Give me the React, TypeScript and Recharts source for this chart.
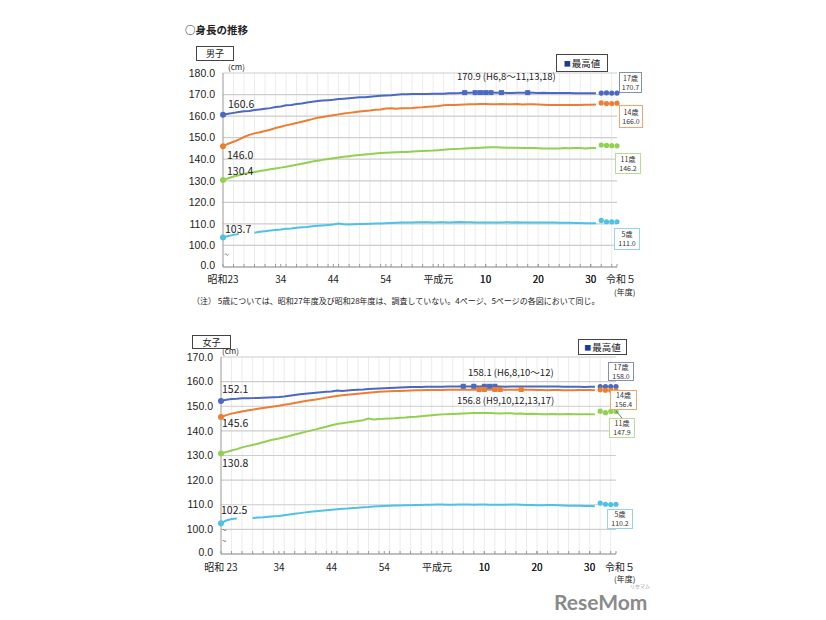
import React from "react";
import { CartesianGrid, Line, LineChart, XAxis, YAxis } from "recharts";

const FONT = '"Noto Sans CJK JP", "Noto Sans", sans-serif';
const NUM_FONT = '"Liberation Sans", Arial, sans-serif';

const firstYear = 1948;
const recentYears = [2020, 2021, 2022, 2023];
const labelYears = [1948, 1959, 1969, 1979, 1989, 1998, 2008, 2018, 2023];
const boysYearLabels = ["昭和23", "34", "44", "54", "平成元", "10", "20", "30", "令和５"];
const girlsYearLabels = ["昭和 23", "34", "44", "54", "平成元", "10", "20", "30", "令和５"];
const gridYears = [1950, 1952, 1954, 1956, 1958, 1960, 1962, 1964, 1966, 1968, 1970, 1972, 1974, 1976, 1978, 1980, 1982, 1984, 1986, 1988, 1990, 1992, 1994, 1996, 1998, 2000, 2002, 2004, 2006, 2008, 2010, 2012, 2014, 2016, 2018, 2020, 2022];
const boysTicks = [90, 100, 110, 120, 130, 140, 150, 160, 170, 180];
const girlsTicks = [90, 100, 110, 120, 130, 140, 150, 160, 170];

// 男子 (昭和23〜令和元)
const boys17 = [
  160.6, 161.1, 161.5, 161.9, 162.2, 162.4, 162.8, 163.1, 163.4, 163.7,
  164.2, 164.5, 165.0, 165.2, 165.6, 165.9, 166.3, 166.7, 167.0, 167.2,
  167.4, 167.6, 167.9, 168.1, 168.3, 168.5, 168.7, 168.8, 169.0, 169.2,
  169.4, 169.6, 169.7, 169.9, 170.1, 170.1, 170.2, 170.2, 170.3, 170.3,
  170.4, 170.4, 170.4, 170.6, 170.6, 170.7, 170.9, 170.8, 170.9, 170.9,
  170.9, 170.9, 170.8, 170.9, 170.7, 170.7, 170.8, 170.8, 170.9, 170.8,
  170.7, 170.8, 170.7, 170.7, 170.7, 170.7, 170.7, 170.6, 170.6, 170.6,
  170.6, 170.6,
];
const boys14 = [
  146.0, 147.2, 148.1, 149.1, 150.3, 151.3, 152.0, 152.5, 153.1, 153.7,
  154.5, 155.1, 155.7, 156.2, 156.8, 157.4, 158.0, 158.6, 159.2, 159.6,
  160.0, 160.4, 160.8, 161.2, 161.5, 161.8, 162.1, 162.4, 162.6, 162.9,
  163.1, 163.5, 163.7, 163.4, 163.6, 163.7, 163.8, 164.0, 164.1, 164.3,
  164.5, 164.7, 165.0, 165.1, 165.2, 165.3, 165.4, 165.5, 165.5, 165.6,
  165.6, 165.5, 165.5, 165.6, 165.5, 165.5, 165.6, 165.4, 165.5, 165.5,
  165.4, 165.3, 165.1, 165.1, 165.2, 165.2, 165.1, 165.1, 165.2, 165.3,
  165.3, 165.4,
];
const boys11 = [
  130.4, 131.2, 132.0, 132.6, 133.2, 133.6, 134.1, 134.5, 134.9, 135.3,
  135.7, 136.1, 136.5, 137.0, 137.4, 137.9, 138.4, 138.9, 139.3, 139.7,
  140.1, 140.5, 140.8, 141.1, 141.4, 141.7, 142.0, 142.2, 142.4, 142.7,
  142.9, 143.0, 143.1, 143.2, 143.3, 143.4, 143.6, 143.7, 143.8, 143.9,
  144.0, 144.2, 144.4, 144.6, 144.7, 144.8, 145.0, 145.1, 145.2, 145.3,
  145.4, 145.5, 145.5, 145.4, 145.3, 145.3, 145.3, 145.2, 145.2, 145.2,
  145.1, 145.0, 145.0, 145.0, 145.0, 145.2, 145.1, 145.2, 145.2, 145.0,
  145.2, 145.2,
];
// 昭和27・28年度は未調査
const boys5 = [
  103.7, 104.4, 104.9, 105.3, null, null, 105.9, 106.3, 106.6, 106.9,
  107.2, 107.4, 107.7, 107.9, 108.2, 108.4, 108.6, 108.9, 109.1, 109.3,
  109.5, 109.7, 110.2, 109.8, 109.7, 109.8, 109.9, 110.0, 110.1, 110.2,
  110.2, 110.3, 110.4, 110.5, 110.6, 110.7, 110.7, 110.8, 110.8, 110.8,
  110.7, 110.8, 110.8, 110.7, 110.8, 110.9, 110.8, 110.8, 110.7, 110.7,
  110.7, 110.7, 110.7, 110.7, 110.8, 110.7, 110.8, 110.7, 110.7, 110.7,
  110.7, 110.6, 110.7, 110.6, 110.5, 110.5, 110.5, 110.4, 110.4, 110.3,
  110.3, 110.3,
];

// 女子
const girls17 = [
  152.1, 152.6, 152.9, 153.0, 153.2, 153.2, 153.3, 153.4, 153.5, 153.6,
  153.7, 153.8, 154.0, 154.3, 154.6, 154.9, 155.1, 155.3, 155.5, 155.7,
  155.9, 156.0, 156.4, 156.2, 156.4, 156.6, 156.7, 156.8, 157.0, 157.1,
  157.2, 157.3, 157.4, 157.5, 157.6, 157.7, 157.8, 157.8, 157.8, 157.9,
  157.9, 157.9, 157.9, 158.0, 158.0, 158.0, 158.1, 158.0, 158.1, 158.0,
  158.1, 158.1, 158.1, 158.0, 157.9, 158.0, 158.0, 158.0, 158.0, 158.0,
  158.0, 158.0, 158.0, 158.0, 158.0, 157.9, 157.9, 157.9, 157.9, 157.8,
  157.9, 157.9,
];
const girls14 = [
  145.6, 146.4, 147.0, 147.5, 147.9, 148.3, 148.6, 149.0, 149.3, 149.6,
  149.9, 150.2, 150.6, 150.9, 151.3, 151.7, 152.1, 152.4, 152.7, 153.1,
  153.5, 153.9, 154.2, 154.5, 154.7, 154.9, 155.1, 155.3, 155.5, 155.7,
  155.9, 156.0, 156.1, 156.2, 156.2, 156.3, 156.4, 156.5, 156.5, 156.6,
  156.6, 156.6, 156.6, 156.7, 156.7, 156.7, 156.7, 156.7, 156.7, 156.8,
  156.8, 156.7, 156.8, 156.8, 156.7, 156.7, 156.7, 156.8, 156.7, 156.7,
  156.6, 156.6, 156.5, 156.6, 156.6, 156.5, 156.5, 156.5, 156.6, 156.6,
  156.6, 156.5,
];
const girls11 = [
  130.8, 131.4, 132.0, 132.6, 133.3, 133.8, 134.3, 134.8, 135.4, 136.0,
  136.5, 136.9, 137.4, 137.9, 138.5, 139.0, 139.6, 140.1, 140.6, 141.2,
  141.7, 142.3, 142.8, 143.1, 143.4, 143.7, 144.0, 144.3, 145.0, 144.6,
  144.8, 144.9, 145.0, 145.1, 145.3, 145.4, 145.6, 145.7, 145.9, 146.1,
  146.3, 146.5, 146.7, 146.8, 146.9, 147.0, 147.1, 147.2, 147.3, 147.3,
  147.3, 147.3, 147.2, 147.1, 147.2, 147.2, 147.0, 147.1, 146.9, 147.0,
  146.9, 146.8, 146.8, 146.9, 146.8, 146.8, 146.9, 146.8, 146.8, 146.8,
  146.8, 146.7,
];
const girls5 = [
  102.5, 103.6, 104.2, 104.4, null, null, 104.6, 104.8, 104.9, 105.1,
  105.3, 105.4, 105.7, 106.0, 106.3, 106.6, 106.9, 107.2, 107.4, 107.6,
  107.8, 108.0, 108.2, 108.4, 108.5, 108.7, 108.8, 109.0, 109.1, 109.3,
  109.4, 109.5, 109.6, 109.7, 109.7, 109.8, 109.8, 109.9, 109.9, 110.0,
  110.0, 110.1, 110.1, 110.0, 110.0, 110.1, 110.1, 110.1, 110.0, 110.1,
  110.1, 110.0, 110.0, 110.0, 110.0, 110.1, 110.1, 110.0, 109.9, 109.9,
  109.8, 109.8, 109.9, 109.9, 109.8, 109.7, 109.6, 109.6, 109.6, 109.5,
  109.5, 109.4,
];

// 令和2〜5年度
const boys17Recent = [170.7, 170.8, 170.7, 170.7];
const boys14Recent = [166.1, 165.8, 165.8, 166.0];
const boys11Recent = [146.6, 146.4, 146.3, 146.2];
const boys5Recent = [111.6, 111.0, 111.0, 111.0];
const girls17Recent = [158.0, 158.0, 158.0, 158.0];
const girls14Recent = [156.7, 156.5, 156.5, 156.4];
const girls11Recent = [148.0, 147.4, 147.9, 147.9];
const girls5Recent = [110.7, 110.2, 110.1, 110.2];

// 最高値の年度
const boys17Max = [1994, 1996, 1997, 1998, 1999, 2001, 2006];
const girls17Max = [1994, 1996, 1998, 1999, 2000];
const girls14Max = [1997, 1998, 2000, 2001, 2005];

const C17 = "#4a69c0";
const C14 = "#ed7d31";
const C11 = "#92d050";
const C5 = "#4fc1e6";

function buildRows(series, recent) {
  const lastYear = recentYears[recentYears.length - 1];
  const rows = [];
  for (let year = firstYear; year <= lastYear; year++) {
    const row = { year };
    for (const k in series) {
      const v = series[k][year - firstYear];
      row[k] = v === undefined ? null : v;
    }
    const ri = recentYears.indexOf(year);
    for (const k in recent) row[k + "R"] = ri >= 0 ? recent[k][ri] : null;
    rows.push(row);
  }
  return rows;
}

const boysRows = buildRows(
  { a17: boys17, a14: boys14, a11: boys11, a5: boys5 },
  { a17: boys17Recent, a14: boys14Recent, a11: boys11Recent, a5: boys5Recent }
);
const girlsRows = buildRows(
  { a17: girls17, a14: girls14, a11: girls11, a5: girls5 },
  { a17: girls17Recent, a14: girls14Recent, a11: girls11Recent, a5: girls5Recent }
);

const boysSeries = [
  { key: "a17", color: C17, max: boys17Max, dx: 5, dy: -7 },
  { key: "a14", color: C14, max: [], dx: 4, dy: 13 },
  { key: "a11", color: C11, max: [], dx: 4, dy: -5 },
  { key: "a5", color: C5, max: [], dx: 2, dy: -4 },
];
const girlsSeries = [
  { key: "a17", color: C17, max: girls17Max, dx: 1, dy: -8 },
  { key: "a14", color: C14, max: girls14Max, dx: 1, dy: 10 },
  { key: "a11", color: C11, max: [], dx: 1, dy: 13 },
  { key: "a5", color: C5, max: [], dx: 0, dy: -9 },
];

function renderDot(p, s) {
  const k = `${s.key}-${p.index}`;
  if (p.cx == null || p.cy == null || p.payload == null) return <g key={k} />;
  const year = p.payload.year;
  if (year === firstYear) return <circle key={k} cx={p.cx} cy={p.cy} r={3} fill={s.color} />;
  if (s.max.includes(year))
    return <rect key={k} x={p.cx - 2.5} y={p.cy - 2.5} width={5} height={5} fill={s.color} />;
  return <g key={k} />;
}

function renderFirstLabel(p, s) {
  if (p.index !== 0 || p.value == null) return null;
  return (
    <text x={p.x + s.dx} y={p.y + s.dy} fontSize={10.5} fill="#222" fontFamily={FONT}>
      {Number(p.value).toFixed(1)}
    </text>
  );
}

function YearTick({ x, y, payload, texts, textDy }) {
  const i = labelYears.indexOf(payload.value);
  return (
    <g>
      <line x1={x} x2={x} y1={y} y2={y - 3} stroke="#999" />
      {i >= 0 && (
        <text x={x + (i === labelYears.length - 1 ? 4 : 0)} y={y + textDy} textAnchor="middle" fontSize={10} fill="#222" fontFamily={FONT}>
          {texts[i]}
        </text>
      )}
    </g>
  );
}

function ValueTick({ x, y, payload }) {
  const v = payload.value;
  return (
    <text x={x} y={y + (v === 90 ? -2 : 0)} dy="0.355em" textAnchor="end" fontSize={10.5} fill="#222" fontFamily={NUM_FONT}>
      {v === 90 ? "0.0" : Number(v).toFixed(1)}
    </text>
  );
}

function Panel({ rows, series, domain, ticks, top, height, margin, texts, textDy }) {
  const gridGen = (props) => {
    const sc = props && props.xAxis ? props.xAxis.scale : null;
    if (typeof sc === "function") return gridYears.map((y) => sc(y));
    if (sc && typeof sc.map === "function") return gridYears.map((y) => sc.map(y));
    return [];
  };
  return (
    <div style={{ position: "absolute", left: 0, top, width: 826, height }}>
      <LineChart width={826} height={height} data={rows} margin={margin}>
        <CartesianGrid horizontal={false} stroke="#ececec" verticalCoordinatesGenerator={gridGen} />
        <CartesianGrid vertical={false} stroke="#cdcdcd" strokeWidth={1.2} />
        <XAxis
          dataKey="year"
          type="number"
          domain={[firstYear, 2023]}
          ticks={[...gridYears, ...labelYears].sort((a, b) => a - b)}
          interval={0}
          height={30}
          tickSize={0}
          tickMargin={0}
          tickLine={false}
          axisLine={{ stroke: "#999" }}
          tick={(p) => <YearTick {...p} texts={texts} textDy={textDy} />}
        />
        <YAxis
          type="number"
          domain={domain}
          ticks={ticks}
          interval={0}
          allowDataOverflow
          width={40}
          tickSize={0}
          tickMargin={8}
          tickLine={false}
          axisLine={{ stroke: "#999" }}
          tick={(p) => <ValueTick {...p} />}
        />
        {series.map((s) => (
          <Line
            key={s.key}
            type="linear"
            dataKey={s.key}
            stroke={s.color}
            strokeWidth={2}
            dot={(p) => renderDot(p, s)}
            activeDot={false}
            label={(p) => renderFirstLabel(p, s)}
            isAnimationActive={false}
          />
        ))}
        {series.map((s) => (
          <Line
            key={s.key + "R"}
            type="linear"
            dataKey={s.key + "R"}
            stroke="none"
            dot={{ r: 2.6, fill: s.color, stroke: s.color, strokeWidth: 0 }}
            activeDot={false}
            isAnimationActive={false}
          />
        ))}
      </LineChart>
    </div>
  );
}

const txt = { position: "absolute", fontFamily: FONT, color: "#222", whiteSpace: "nowrap", lineHeight: 1 } as any;

function Box({ left, top, w, h, border, lines }) {
  return (
    <div
      style={{
        position: "absolute", left, top, width: w, height: h, border: `1px solid ${border}`,
        background: "#fff", fontFamily: FONT, fontSize: 7, lineHeight: "9px", color: "#333",
        textAlign: "center", display: "flex", flexDirection: "column", justifyContent: "center",
      }}
    >
      {lines.map((l) => (
        <div key={l}>{l}</div>
      ))}
    </div>
  );
}

function Legend({ left, top, w, h }) {
  return (
    <div
      style={{
        position: "absolute", left, top, width: w, height: h, border: "1px solid #444",
        background: "#fff", fontFamily: FONT, fontSize: 9.5, color: "#222",
        display: "flex", alignItems: "center", justifyContent: "center",
      }}
    >
      <span style={{ color: "#1f3a93", fontSize: 7, marginRight: 1 }}>■</span>最高値
    </div>
  );
}

function Tag({ left, top, w, h, text }) {
  return (
    <div
      style={{
        position: "absolute", left, top, width: w, height: h, border: "1px solid #444",
        background: "#fff", fontFamily: FONT, fontSize: 9, color: "#222",
        display: "flex", alignItems: "center", justifyContent: "center",
      }}
    >
      {text}
    </div>
  );
}

export default function App() {
  return (
    <div style={{ position: "absolute", left: 0, top: 0, width: 826, height: 620, background: "#fff", overflow: "hidden" }}>
      <Panel
        rows={boysRows}
        series={boysSeries}
        domain={[90, 180]}
        ticks={boysTicks}
        top={0}
        height={310}
        margin={{ top: 73, right: 209, bottom: 13, left: 183 }}
        texts={boysYearLabels}
        textDy={16}
      />
      <Panel
        rows={girlsRows}
        series={girlsSeries}
        domain={[90, 170]}
        ticks={girlsTicks}
        top={300}
        height={300}
        margin={{ top: 57, right: 210, bottom: 16, left: 181 }}
        texts={girlsYearLabels}
        textDy={17}
      />

      <div style={{ ...txt, left: 185, top: 25, fontSize: 10.5, fontWeight: 700 }}>○身長の推移</div>

      {/* 男子 */}
      <Tag left={196} top={46} w={36} h={13} text="男子" />
      <Legend left={556} top={54} w={50} h={16} />
      <div style={{ ...txt, left: 228, top: 63, fontSize: 8 }}>(cm)</div>
      <div style={{ ...txt, left: 457, top: 72, fontSize: 9.5 }}>170.9 (H6,8～11,13,18)</div>
      <div style={{ ...txt, left: 224, top: 250, fontSize: 9, color: "#555" }}>~</div>
      <div style={{ ...txt, left: 614, top: 288, fontSize: 8 }}>(年度)</div>
      <Box left={619} top={72} w={21} h={19} border="#8290b8" lines={["17歳", "170.7"]} />
      <Box left={619} top={105} w={22} h={21} border="#f2a46e" lines={["14歳", "166.0"]} />
      <Box left={615} top={153} w={24} h={19} border="#b8dc92" lines={["11歳", "146.2"]} />
      <Box left={614} top={228} w={24} h={20} border="#92d4ea" lines={["5歳", "111.0"]} />
      <div style={{ ...txt, left: 192, top: 297, fontSize: 8 }}>
        （注） 5歳については、昭和27年度及び昭和28年度は、調査していない。4ページ、5ページの各図において同じ。
      </div>

      {/* 女子 */}
      <Tag left={192} top={335} w={37} h={12} text="女子" />
      <Legend left={578} top={339} w={47} h={14} />
      <div style={{ ...txt, left: 222, top: 347, fontSize: 8 }}>(cm)</div>
      <div style={{ ...txt, left: 468, top: 368, fontSize: 9.5 }}>158.1 (H6,8,10～12)</div>
      <div style={{ ...txt, left: 457, top: 396, fontSize: 9.5 }}>156.8 (H9,10,12,13,17)</div>
      <div style={{ ...txt, left: 222, top: 526, fontSize: 8, color: "#555" }}>~</div>
      <div style={{ ...txt, left: 222, top: 537, fontSize: 8, color: "#555" }}>~</div>
      <div style={{ ...txt, left: 614, top: 575, fontSize: 8 }}>(年度)</div>
      <Box left={608} top={362} w={24} h={17} border="#8290b8" lines={["17歳", "158.0"]} />
      <Box left={610} top={390} w={25} h={18} border="#f2a46e" lines={["14歳", "156.4"]} />
      <Box left={609} top={418} w={24} h={18} border="#b8dc92" lines={["11歳", "147.9"]} />
      <Box left={607} top={509} w={24} h={18} border="#92d4ea" lines={["5歳", "110.2"]} />
      <svg style={{ position: "absolute", left: 0, top: 0, pointerEvents: "none" }} width={826} height={620}>
        <line x1={616} y1={411} x2={622} y2={418} stroke="#555" strokeWidth={0.8} />
      </svg>

      <div style={{ ...txt, left: 630, top: 583, fontSize: 5, color: "#999" }}>リセマム</div>
      <div style={{ ...txt, left: 554, top: 591, fontSize: 21, fontWeight: 700, color: "#8a8a8a", fontFamily: "Lato, 'Open Sans', sans-serif" }}>
        ReseMom
      </div>
    </div>
  );
}
